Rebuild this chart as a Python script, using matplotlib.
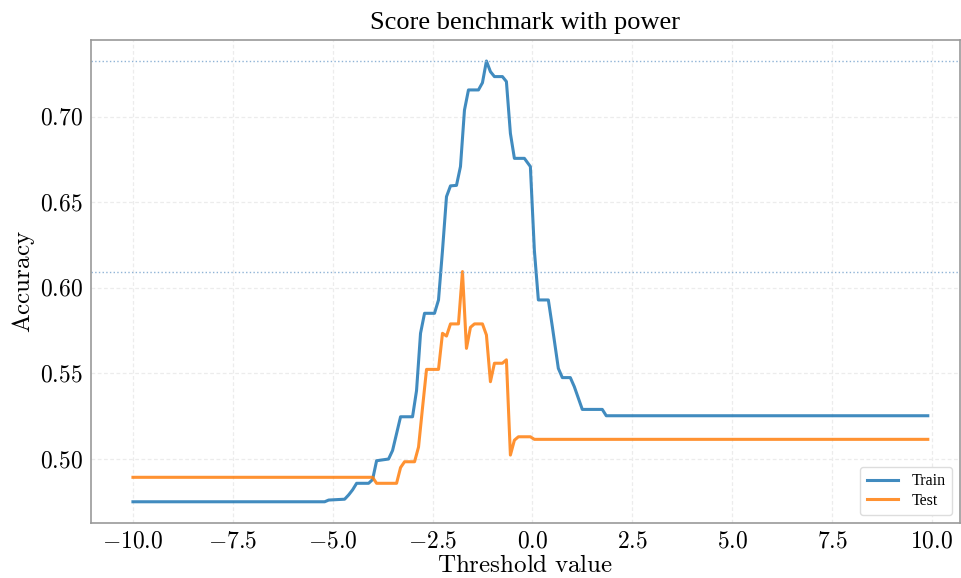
import numpy as np
import matplotlib
matplotlib.use("Agg")
import matplotlib.pyplot as plt
from matplotlib.ticker import FuncFormatter

# readings from the chart (threshold, accuracy)
train_x = [-10.0, -5.2, -5.1, -4.7, -4.6, -4.5, -4.4, -4.1, -4.0, -3.9, -3.6, -3.5,
           -3.3, -3.0, -2.9, -2.8, -2.7, -2.45, -2.35, -2.25, -2.15, -2.05, -1.9,
           -1.8, -1.7, -1.6, -1.35, -1.25, -1.15, -1.05, -0.95, -0.75, -0.65, -0.55,
           -0.45, -0.2, -0.05, 0.05, 0.15, 0.4, 0.5, 0.65, 0.75, 0.95, 1.05, 1.25,
           1.75, 1.85, 9.9]
train_acc = [0.4750, 0.4750, 0.4760, 0.4765, 0.4790, 0.4820, 0.4858, 0.4858, 0.4880,
             0.4990, 0.5000, 0.5050, 0.5247, 0.5247, 0.5400, 0.5735, 0.5852, 0.5852,
             0.5930, 0.6220, 0.6534, 0.6597, 0.6600, 0.6710, 0.7040, 0.7158, 0.7158,
             0.7200, 0.7327, 0.7265, 0.7236, 0.7236, 0.7207, 0.6904, 0.6758, 0.6758,
             0.6710, 0.6220, 0.5930, 0.5930, 0.5774, 0.5530, 0.5476, 0.5476, 0.5423,
             0.5290, 0.5290, 0.5253, 0.5253]

test_x = [-10.0, -4.0, -3.9, -3.4, -3.3, -3.2, -2.95, -2.85, -2.75, -2.65, -2.35,
          -2.25, -2.15, -2.05, -1.85, -1.75, -1.65, -1.55, -1.45, -1.25, -1.15,
          -1.05, -0.95, -0.75, -0.65, -0.55, -0.45, -0.35, -0.05, 0.05, 9.9]
test_acc = [0.4893, 0.4893, 0.4858, 0.4858, 0.4950, 0.4984, 0.4984, 0.5070, 0.5300,
            0.5524, 0.5524, 0.5735, 0.5719, 0.5790, 0.5790, 0.6096, 0.5647, 0.5770,
            0.5790, 0.5790, 0.5725, 0.5452, 0.5560, 0.5560, 0.5580, 0.5023, 0.5110,
            0.5130, 0.5130, 0.5115, 0.5115]

plt.rcParams['mathtext.fontset'] = 'cm'
plt.rcParams['font.family'] = ['Liberation Serif', 'DejaVu Serif']

fig = plt.figure(figsize=(9.61, 5.78), dpi=100)
ax = fig.add_axes([0.0947, 0.0952, 0.904, 0.8356])

ax.plot(train_x, train_acc, color='#1f77b4', lw=2.2, alpha=0.85, label='Train')
ax.plot(test_x, test_acc, color='#ff7f0e', lw=2.2, alpha=0.85, label='Test')
ax.axhline(max(train_acc), color='#8fb3d6', lw=1.0, ls=':')
ax.axhline(max(test_acc), color='#8fb3d6', lw=1.0, ls=':')

ax.set_xlim(-11.05, 10.7)
ax.set_ylim(0.4626, 0.745)
ax.set_xticks(np.arange(-10, 10.1, 2.5))
ax.set_yticks([0.50, 0.55, 0.60, 0.65, 0.70])
ax.xaxis.set_major_formatter(FuncFormatter(lambda v, p: f"${v:.1f}$"))
ax.yaxis.set_major_formatter(FuncFormatter(lambda v, p: f"${v:.2f}$"))
ax.tick_params(labelsize=17, length=0, pad=6)

ax.grid(True, color='#ececec', lw=0.9, ls=(0, (3, 2)))
for s in ax.spines.values():
    s.set_color('#999999')
    s.set_linewidth(1.2)

ax.set_xlabel(r'$\mathrm{Threshold\ value}$', fontsize=18, labelpad=2)
ax.set_ylabel(r'$\mathrm{Accuracy}$', fontsize=18, labelpad=2)
ax.set_title('Score benchmark with power', fontsize=19, pad=8)
ax.legend(loc='lower right', fontsize=11.5, handlelength=2.0, borderpad=0.4,
          labelspacing=0.2, framealpha=1.0, edgecolor='#dddddd')

fig.savefig('out.png', dpi=100)
